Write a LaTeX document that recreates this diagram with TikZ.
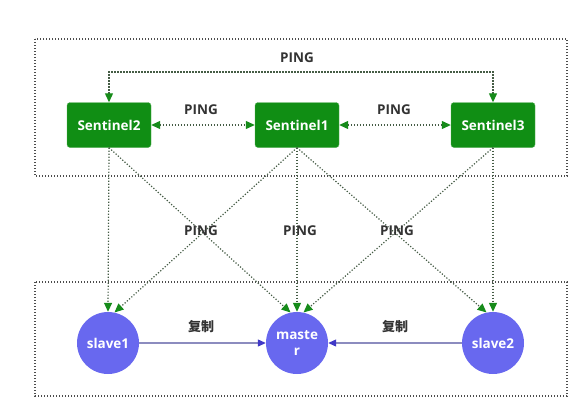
\documentclass[tikz,border=0pt]{standalone}
\usepackage{fontspec}
\setmainfont{Open Sans}
\newfontfamily\cjkfont{Noto Sans CJK SC}
\usetikzlibrary{positioning, arrows.meta}
\definecolor{sentgreen}{rgb}{0.063,0.557,0.078}
\definecolor{tipgreen}{rgb}{0.086,0.545,0.102}
\definecolor{pinggray}{rgb}{0.27,0.36,0.27}
\definecolor{redisblue}{rgb}{0.408,0.408,0.937}
\definecolor{repline}{rgb}{0.55,0.55,0.75}
\definecolor{reptip}{rgb}{0.25,0.22,0.78}
\definecolor{labelgray}{rgb}{0.2,0.2,0.2}

\begin{document}
\begin{tikzpicture}[
  x=1pt, y=-1pt,
  every node/.style={
    font=\fontsize{13.5}{16}\selectfont\bfseries,
  },
  sentinel/.style={
    rectangle,
    rounded corners=3pt,
    fill=sentgreen,
    draw=sentgreen!70!white,
    text=white,
    minimum width=84pt,
    minimum height=45pt,
  },
  redis/.style={
    circle,
    fill=redisblue,
    text=white,
    minimum size=62pt,
    inner sep=0pt,
    align=center,
  },
  label/.style={
    text=labelgray,
  },
  frame/.style={
    draw=black!70,
    line width=1.2pt,
    dash pattern=on 1.2pt off 1.8pt,
  },
  ping/.style={
    draw=pinggray,
    line width=1.2pt,
    dash pattern=on 1.2pt off 1.8pt,
    {Triangle[length=9pt,width=8pt,color=tipgreen]}-{Triangle[length=9pt,width=8pt,color=tipgreen]},
  },
  pingto/.style={
    draw=pinggray,
    line width=1.2pt,
    dash pattern=on 1.2pt off 1.8pt,
    -{Triangle[length=9pt,width=8pt,color=tipgreen]},
  },
  replicate/.style={
    draw=repline,
    line width=1.1pt,
    -{Triangle[length=8pt,width=7pt,color=reptip]},
  }
]
\useasboundingbox (0,0) rectangle (588,415);

% frames
\draw[frame] (35,39) rectangle (567,176);
\draw[frame] (35,282) rectangle (567,396);

% sentinels
\node[sentinel] (s1) at (297,125) {Sentinel1};
\node[sentinel] (s2) at (109,125) {Sentinel2};
\node[sentinel] (s3) at (493,125) {Sentinel3};

% redis servers
\node[redis] (master) at (297,343) {maste\\r};
\node[redis] (slave1) at (108,343) {slave1};
\node[redis] (slave2) at (493,343) {slave2};

% sentinel to sentinel
\coordinate (pingtop) at (297,72);
\draw[ping] (s2.north) |- (pingtop) -| (s3.north);
\draw[ping] (s2) -- (s1);
\draw[ping] (s1) -- (s3);
\node[label] (ping0) at (297,58) {PING};
\node[label] (ping1) at (201,110) {PING};
\node[label] (ping2) at (394,110) {PING};

% sentinel to redis
\draw[pingto] (s2.south) -- (slave1.north);
\draw[pingto] (s2.south) -- (master.102);
\draw[pingto] (s1.south) -- (slave1.78);
\draw[pingto] (s1.south) -- (master.north);
\draw[pingto] (s1.south) -- (slave2.102);
\draw[pingto] (s3.south) -- (master.78);
\draw[pingto] (s3.south) -- (slave2.north);
\node[label] (ping3) at (201,231) {PING};
\node[label] (ping4) at (300,231) {PING};
\node[label] (ping5) at (397,231) {PING};

% replication
\draw[replicate] (slave1) -- (master);
\draw[replicate] (slave2) -- (master);
\node[label, font=\cjkfont\fontsize{13}{15}\selectfont\bfseries] (rep1) at (201,327) {复制};
\node[label, font=\cjkfont\fontsize{13}{15}\selectfont\bfseries] (rep2) at (395,327) {复制};

\end{tikzpicture}
\end{document}
